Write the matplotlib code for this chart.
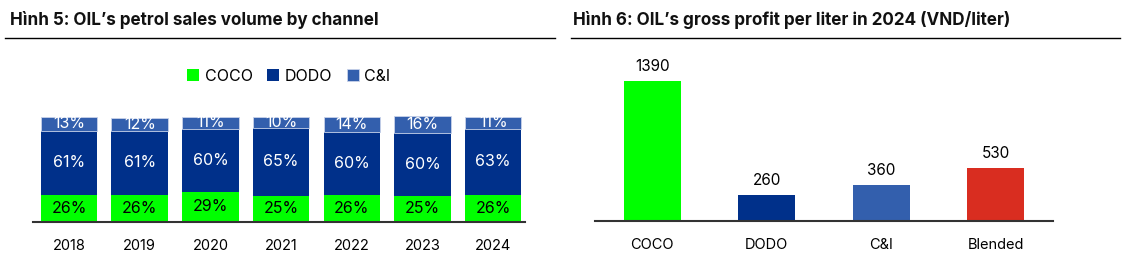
import matplotlib.pyplot as plt
from matplotlib.lines import Line2D

plt.rcParams['font.family'] = ['Inter', 'DejaVu Sans']

# du lieu
years = ['2018', '2019', '2020', '2021', '2022', '2023', '2024']
coco = [26, 26, 29, 25, 26, 25, 26]
dodo = [61, 61, 60, 65, 60, 60, 63]
ci = [13, 12, 11, 10, 14, 16, 11]

channels = ['COCO', 'DODO', 'C&I', 'Blended']
profit = [1390, 260, 360, 530]

c_green = '#00FF00'
c_dark = '#00308A'
c_mid = '#335FAD'
c_red = '#D92D20'

W, H = 1125, 267
fig = plt.figure(figsize=(W / 100, H / 100), dpi=100)

def fx(px):
    return px / W

def fy(py):
    return 1 - py / H

# tieu de + gach duoi
fig.text(fx(10), fy(20), 'Hình 5: OIL’s petrol sales volume by channel',
         fontsize=12.3, fontweight='bold', va='center', ha='left', color='#111111')
fig.text(fx(573), fy(20), 'Hình 6: OIL’s gross profit per liter in 2024 (VND/liter)',
         fontsize=12.3, fontweight='bold', va='center', ha='left', color='#111111')
fig.add_artist(Line2D([fx(5), fx(555)], [fy(38), fy(38)], color='black', lw=1))
fig.add_artist(Line2D([fx(571), fx(1120)], [fy(38), fy(38)], color='black', lw=1))

# bieu do 1
ax1 = fig.add_axes([fx(33), fy(222), fx(525 - 33), (222 - 60) / H])
x = range(len(years))
bottom2 = [a + b for a, b in zip(coco, dodo)]
ax1.bar(x, coco, width=0.8, color=c_green, label='COCO')
ax1.bar(x, dodo, width=0.8, bottom=coco, color=c_dark, label='DODO')
ax1.bar(x, ci, width=0.8, bottom=bottom2, color=c_mid, label='C&I',
        edgecolor='#C8D3EA', linewidth=0.6)
for i in x:
    ax1.text(i, coco[i] / 2, f'{coco[i]}%', ha='center', va='center',
             fontsize=11.5, color='black')
    ax1.text(i, coco[i] + dodo[i] / 2, f'{dodo[i]}%', ha='center', va='center',
             fontsize=11.5, color='white')
    ax1.text(i, bottom2[i] + ci[i] / 2, f'{ci[i]}%', ha='center', va='center',
             fontsize=11.5, color='white')
ax1.set_xlim(-0.51, 6.45)
ax1.set_ylim(0, 100 * 162 / 105)
ax1.set_xticks(list(x))
ax1.set_xticklabels(years, fontsize=10.5)
ax1.tick_params(axis='x', length=0, pad=12)
ax1.set_yticks([])
for s in ['top', 'right', 'left']:
    ax1.spines[s].set_visible(False)
ax1.spines['bottom'].set_linewidth(1.5)
ax1.spines['bottom'].set_color('#333333')
ax1.legend(loc='center', bbox_to_anchor=(0.52, 0.9), ncol=3, frameon=False,
           fontsize=11.5, handlelength=0.75, handleheight=0.75, handletextpad=0.35,
           columnspacing=0.9)

# bieu do 2
ax2 = fig.add_axes([fx(595), fy(221), fx(1053 - 595), (221 - 60) / H])
cols = [c_green, c_dark, c_mid, c_red]
ax2.bar(range(len(channels)), profit, width=0.5, color=cols)
for i, v in enumerate(profit):
    ax2.text(i, v + 70, str(v), ha='center', va='bottom', fontsize=11)
ax2.set_xlim(-0.5, 3.5)
ax2.set_ylim(0, 1600)
ax2.set_xticks(range(len(channels)))
ax2.set_xticklabels(channels, fontsize=10.5)
ax2.tick_params(axis='x', length=0, pad=12)
ax2.set_yticks([])
for s in ['top', 'right', 'left']:
    ax2.spines[s].set_visible(False)
ax2.spines['bottom'].set_linewidth(1.5)
ax2.spines['bottom'].set_color('#333333')

fig.savefig('out.png', dpi=100)
